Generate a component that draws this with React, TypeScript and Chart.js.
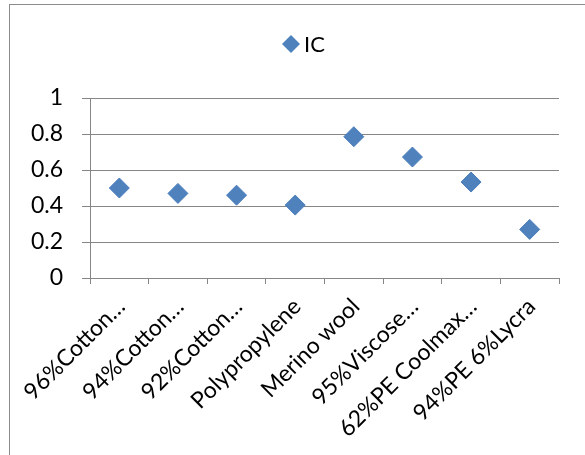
import React, { useEffect, useRef } from "react";
import { Chart, registerables } from "chart.js";

Chart.register(...registerables);

const categories = [
  "96%Cotton…",
  "94%Cotton…",
  "92%Cotton…",
  "Polypropylene",
  "Merino wool",
  "95%Viscose…",
  "62%PE Coolmax…",
  "94%PE 6%Lycra",
];
const icValues = [0.5, 0.47, 0.46, 0.405, 0.785, 0.672, 0.533, 0.27];
const seriesName = "IC";
const yTickLabels = ["0", "0.2", "0.4", "0.6", "0.8", "1"];

const FONT = "Lato";
const X_FONT_SIZE = 23;
const Y_FONT_SIZE = 23;
const GRID = "#868686";
const BLUE = "#4F81BD";

const legendPlugin = {
  id: "customLegend",
  afterDraw(chart: any) {
    const ctx = chart.ctx;
    const ds = chart.data.datasets[0];
    const cx = 291;
    const cy = 44;
    const r = 9;
    ctx.save();
    ctx.beginPath();
    ctx.moveTo(cx - r, cy);
    ctx.lineTo(cx, cy - r);
    ctx.lineTo(cx + r, cy);
    ctx.lineTo(cx, cy + r);
    ctx.closePath();
    ctx.fillStyle = ds.pointBackgroundColor;
    ctx.fill();
    ctx.fillStyle = "#000";
    ctx.font = `22px ${FONT}`;
    ctx.textBaseline = "middle";
    ctx.textAlign = "left";
    ctx.fillText(ds.label, cx + r + 4, cy + 1);
    ctx.restore();
  },
};

export default function App() {
  const ref = useRef<HTMLCanvasElement | null>(null);
  useEffect(() => {
    if (!ref.current) return;
    const chart = new Chart(ref.current, {
      type: "line",
      data: {
        labels: categories,
        datasets: [
          {
            label: seriesName,
            data: icValues,
            showLine: false,
            pointStyle: "rectRot",
            pointRadius: 10,
            pointBackgroundColor: BLUE,
            pointBorderColor: "#4A7EBB",
            pointBorderWidth: 1,
          } as any,
        ],
      },
      options: {
        responsive: false,
        animation: false,
        devicePixelRatio: 1,
        layout: { padding: { top: 98, right: 26, bottom: 0, left: 0 } },
        plugins: {
          legend: { display: false },
          tooltip: { enabled: false },
        },
        scales: {
          x: {
            offset: true,
            grid: {
              offset: true,
              drawOnChartArea: false,
              drawTicks: true,
              tickLength: 6,
              color: GRID,
            },
            border: { color: GRID },
            ticks: {
              color: "#000",
              font: { family: FONT, size: X_FONT_SIZE },
              minRotation: 45,
              maxRotation: 45,
              autoSkip: false,
              padding: 9,
              labelOffset: 2,
            },
            afterFit: (s: any) => {
              s.height = 177;
            },
          },
          y: {
            min: 0,
            max: 1,
            ticks: {
              stepSize: 0.2,
              color: "#000",
              font: { family: FONT, size: Y_FONT_SIZE },
              padding: 19,
              callback: (_v: any, i: number) => yTickLabels[i],
            },
            grid: { color: GRID, tickLength: 8 },
            border: { color: GRID },
            afterFit: (s: any) => {
              s.width = 90;
            },
          },
        },
      },
      plugins: [legendPlugin],
    });
    return () => chart.destroy();
  }, []);

  return (
    <div
      style={{
        position: "fixed",
        left: 0,
        top: 0,
        width: 585,
        height: 455,
        overflow: "hidden",
        background: "#fff",
      }}
    >
      <canvas
        ref={ref}
        width={585}
        height={455}
        style={{ position: "absolute", left: 0, top: 0, width: 585, height: 455 }}
      />
      <div
        style={{
          position: "absolute",
          left: 9,
          top: 4,
          width: 700,
          height: 600,
          border: "1px solid #8c8c8c",
          pointerEvents: "none",
        }}
      />
    </div>
  );
}
